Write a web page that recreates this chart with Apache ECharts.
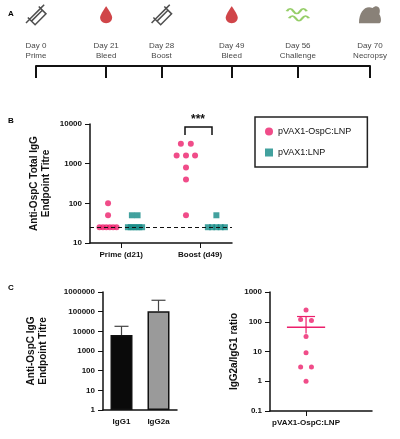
<!DOCTYPE html>
<html><head><meta charset="utf-8">
<script src="https://cdn.jsdelivr.net/npm/echarts@6/dist/echarts.min.js"></script>
<style>html,body{margin:0;background:#fff}#c{width:400px;height:439px}</style>
</head><body><div id="c"></div>
<script>
// timeline
var events = ['Day 0\nPrime', 'Day 21\nBleed', 'Day 28\nBoost', 'Day 49\nBleed', 'Day 56\nChallenge', 'Day 70\nNecropsy'];
var eventPos = [0, 1.05, 1.88, 2.93, 3.92, 5];
var icons = ['syringe', 'drop', 'syringe', 'drop', 'bug', 'mouse'];

// panel B: [x, titre]
var ospcPts = [[1.27, 100], [1.27, 50], [0.67, 25], [0.91, 25], [1.15, 25], [1.39, 25], [1.63, 25], [1.87, 25],
  [6.4, 3200], [7.1, 3200], [6.1, 1600], [6.76, 1600], [7.4, 1600], [6.76, 800], [6.76, 400], [6.76, 50]];
var vaxPts = [[2.95, 50], [3.35, 50], [2.67, 25], [2.87, 25], [3.07, 25], [3.27, 25], [3.47, 25], [3.67, 25],
  [8.9, 50], [8.3, 25], [8.6, 25], [8.9, 25], [9.2, 25], [9.5, 25]];
var groupLabels = ['Prime (d21)', 'Boost (d49)'];
var groupPos = [2.2, 7.75];
var baseline = 25;

// panel C left
var subclasses = ['IgG1', 'IgG2a'];
var subMeans = [6500, 105000];
var subErr = [18000, 380000];

// panel C right
var ratioPts = [[1, 250], [0.85, 120], [1.15, 110], [1, 32], [1, 9], [0.85, 3], [1.15, 3], [1, 1]];
var ratioMean = 65, ratioErrHi = 150, ratioErrLo = 40;

var F = 'Liberation Sans';
var pink = '#ec1f6b', teal = '#138a86';
var chart = echarts.init(document.getElementById('c'));

var iconSym = {
  syringe: {symbol: 'path://M0,10 L2,8 L8,2 L10,0 M3,9 L9,3 M1,7 L5,11 L11,5 L7,1', color: '#222', size: [20, 20]},
  drop: {symbol: 'path://M5,0 C5,0 0,7 0,10 C0,13 2,15 5,15 C8,15 10,13 10,10 C10,7 5,0 5,0 Z', color: '#c4161c', size: [12, 17]},
  bug: {symbol: 'path://M0,4 Q3,0 6,4 T12,4 T18,4 M2,10 Q5,6 8,10 T14,10 T20,10', color: '#7cc243', size: [22, 12]},
  mouse: {symbol: 'path://M0,14 C0,6 6,2 12,4 C16,1 20,4 18,8 C20,10 20,14 18,14 Z', color: '#6b6256', size: [22, 17]}
};

function logAxis(grid, min, max, name, gap) {
  return {type: 'log', logBase: 10, gridIndex: grid, min: min, max: max, name: name, nameLocation: 'middle', nameGap: gap,
    nameTextStyle: {fontFamily: F, fontWeight: 'bold', fontSize: 10, color: '#111', lineHeight: 12},
    axisLine: {show: true, lineStyle: {color: '#111', width: 1.5}},
    axisTick: {show: true, lineStyle: {color: '#111'}}, splitLine: {show: false}, minorTick: {show: false},
    axisLabel: {fontFamily: F, fontWeight: 'bold', fontSize: 8, color: '#111',
      formatter: function (v) { return String(Math.round(v * 10) / 10); }}};
}

function errRender(params, api) {
  var base = api.coord([api.value(0), api.value(1)]);
  var top = api.coord([api.value(0), api.value(2)]);
  var hw = api.value(3);
  var c = api.value(4) ? pink : '#444';
  return {type: 'group', children: [
    {type: 'line', shape: {x1: base[0], y1: base[1], x2: top[0], y2: top[1]}, style: {stroke: c, lineWidth: 1.2}},
    {type: 'line', shape: {x1: top[0] - hw, y1: top[1], x2: top[0] + hw, y2: top[1]}, style: {stroke: c, lineWidth: 1.2}}
  ]};
}

chart.setOption({
  animation: false,
  textStyle: {fontFamily: F},
  grid: [
    {left: 36, width: 334, top: 5, height: 61},
    {left: 90, width: 142, top: 124, height: 119},
    {left: 103, width: 74, top: 292, height: 118},
    {left: 270, width: 102, top: 292, height: 119}
  ],
  legend: {left: 255, top: 117, orient: 'vertical', borderColor: '#222', borderWidth: 1.5, padding: [10, 16, 10, 10],
    itemGap: 12, itemWidth: 8, itemHeight: 8, textStyle: {fontFamily: F, fontSize: 9, color: '#111'},
    data: ['pVAX1-OspC:LNP', 'pVAX1:LNP']},
  xAxis: [
    {type: 'value', gridIndex: 0, min: 0, max: 5, interval: 1, axisLine: {lineStyle: {color: '#111', width: 2}},
      axisTick: {length: 12, lineStyle: {color: '#111', width: 2}, customValues: eventPos}, axisLabel: {show: false}, splitLine: {show: false}},
    {type: 'value', gridIndex: 1, min: 0, max: 10, axisLine: {lineStyle: {color: '#111', width: 1.5}},
      axisTick: {customValues: groupPos, lineStyle: {color: '#111'}}, splitLine: {show: false},
      axisLabel: {customValues: groupPos, formatter: function (v) { return groupLabels[groupPos.indexOf(v)]; },
        fontFamily: F, fontWeight: 'bold', fontSize: 8, color: '#111'}},
    {type: 'category', gridIndex: 2, data: subclasses, axisLine: {lineStyle: {color: '#111', width: 1.5}},
      axisTick: {alignWithLabel: true, lineStyle: {color: '#111'}}, axisLabel: {fontFamily: F, fontWeight: 'bold', fontSize: 8, color: '#111'}},
    {type: 'value', gridIndex: 3, min: 0, max: 2.83, axisLine: {lineStyle: {color: '#111', width: 1.5}}, splitLine: {show: false},
      axisTick: {customValues: [1], lineStyle: {color: '#111'}},
      axisLabel: {customValues: [1], formatter: function () { return 'pVAX1-OspC:LNP'; }, fontFamily: F, fontWeight: 'bold', fontSize: 8, color: '#111'}}
  ],
  yAxis: [
    {type: 'value', gridIndex: 0, min: 0, max: 1, show: false},
    logAxis(1, 10, 10000, 'Anti-OspC Total IgG\nEndpoint Titre', 38),
    logAxis(2, 1, 1000000, 'Anti-OspC IgG\nEndpoint Titre', 54),
    logAxis(3, 0.1, 1000, 'IgG2a/IgG1 ratio', 30)
  ],
  graphic: [
    {type: 'text', left: 8, top: 10, style: {text: 'A', font: 'bold 8px ' + F}},
    {type: 'text', left: 8, top: 117, style: {text: 'B', font: 'bold 8px ' + F}},
    {type: 'text', left: 8, top: 284, style: {text: 'C', font: 'bold 8px ' + F}},
    {type: 'polyline', shape: {points: [[185, 135], [185, 127], [212, 127], [212, 135]]}, style: {stroke: '#111', lineWidth: 1.5, fill: null}},
    {type: 'text', x: 198, y: 114, style: {text: '***', font: 'bold 12px ' + F, align: 'center', fill: '#111'}}
  ],
  series: [
    {type: 'scatter', xAxisIndex: 0, yAxisIndex: 0, symbolSize: 0, silent: true,
      data: events.map(function (e, i) { return [eventPos[i], 0.25]; }),
      label: {show: true, position: 'inside', fontSize: 8, lineHeight: 10, color: '#111',
        formatter: function (p) { return events[p.dataIndex]; }}},
    {type: 'scatter', xAxisIndex: 0, yAxisIndex: 0, clip: false, silent: true,
      data: icons.map(function (k, i) {
        var s = iconSym[k];
        return {value: [eventPos[i], 0.84], symbol: s.symbol, symbolSize: s.size,
          itemStyle: k === 'syringe' || k === 'bug' ? {color: 'none', borderColor: s.color, borderWidth: k === 'bug' ? 2 : 1.5} : {color: s.color}};
      })},
    {name: 'pVAX1-OspC:LNP', type: 'scatter', xAxisIndex: 1, yAxisIndex: 1, symbol: 'circle', symbolSize: 6, z: 3,
      itemStyle: {color: pink}, data: ospcPts,
      markLine: {silent: true, symbol: 'none', label: {show: false}, lineStyle: {color: '#111', type: [4, 3], width: 1.2},
        data: [{yAxis: baseline}]}},
    {name: 'pVAX1:LNP', type: 'scatter', xAxisIndex: 1, yAxisIndex: 1, symbol: 'rect', symbolSize: 6, z: 3,
      itemStyle: {color: teal}, data: vaxPts},
    {type: 'bar', xAxisIndex: 2, yAxisIndex: 2, barWidth: 22, z: 3,
      data: subMeans.map(function (v, i) { return {value: v, itemStyle: {color: i ? '#9a9a9a' : '#0a0a0a', borderColor: '#111', borderWidth: 1.5}}; })},
    {type: 'custom', xAxisIndex: 2, yAxisIndex: 2, z: 2, renderItem: errRender,
      data: subMeans.map(function (v, i) { return [i, v, subErr[i], 7, 0]; })},
    {type: 'scatter', xAxisIndex: 3, yAxisIndex: 3, symbolSize: 5, itemStyle: {color: pink}, data: ratioPts},
    {type: 'custom', xAxisIndex: 3, yAxisIndex: 3, renderItem: errRender,
      data: [[1, ratioErrLo, ratioErrHi, 9, 1]]},
    {type: 'line', xAxisIndex: 3, yAxisIndex: 3, symbol: 'none', lineStyle: {color: pink, width: 1.5},
      data: [[0.47, ratioMean], [1.53, ratioMean]]}
  ]
});
</script></body></html>
